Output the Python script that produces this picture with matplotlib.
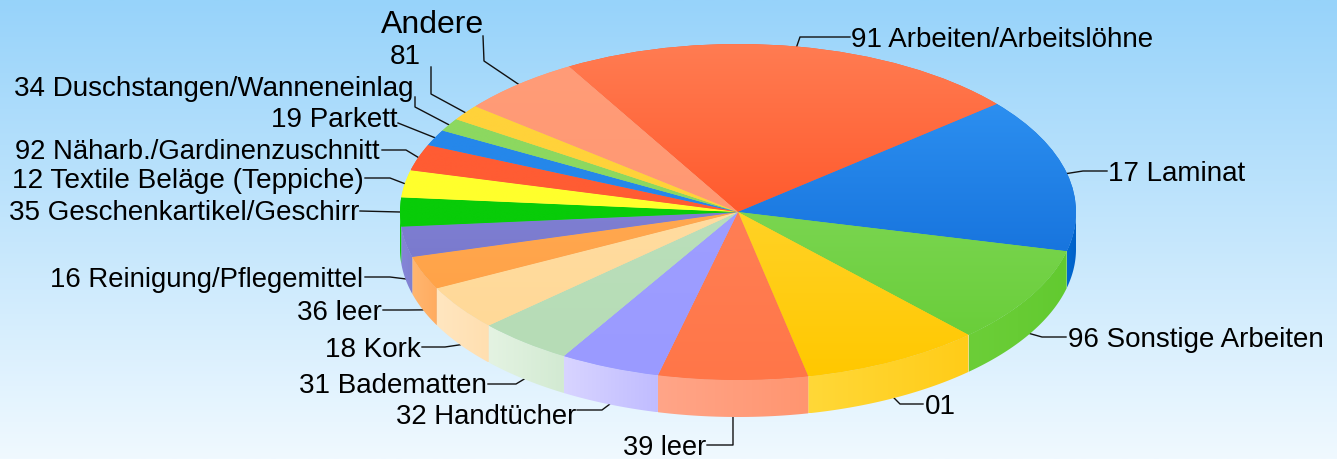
import numpy as np
import matplotlib
matplotlib.use('Agg')
import matplotlib.pyplot as plt
from matplotlib.colors import LinearSegmentedColormap
from matplotlib.patches import Polygon

plt.rcParams['font.family'] = ['Liberation Sans', 'DejaVu Sans']

# slices, clockwise starting with the big red one
names = ['91 Arbeiten/Arbeitslöhne', '17 Laminat', '96 Sonstige Arbeiten', '01', '39 leer',
         '32 Handtücher', '31 Badematten', '18 Kork', '36 leer', '16 Reinigung/Pflegemittel',
         '35 Geschenkartikel/Geschirr', '12 Textile Beläge (Teppiche)', '92 Näharb./Gardinenzuschnitt',
         '19 Parkett', '34 Duschstangen/Wanneneinlag', '81', 'Andere']
shares = [80, 53.5, 33.5, 31, 25.7, 17.3, 16.5, 15.5, 11.5, 10.5, 10, 9.4, 9.1, 5.5, 4.5, 5.5, 21]

# top face colours (upper, lower)
top_cols = [('#FF7C52', '#FF5A2D'), ('#2C8FF0', '#1875DE'), ('#7AD550', '#6ACE3A'), ('#FFD226', '#FFC800'),
            ('#FF7F55', '#FF7648'), ('#9E9EFF', '#9A9AFF'), ('#BADFBA', '#B6DCB6'), ('#FFDCA0', '#FFD998'),
            ('#FFA850', '#FFA348'), ('#7F7FD2', '#7A7ACE'), ('#08CC08', '#08CC08'), ('#FFFF2C', '#FFFF2C'),
            ('#FF5C33', '#FF5C33'), ('#2587EA', '#2587EA'), ('#8CD860', '#8CD860'), ('#FFD23A', '#FFD23A'),
            ('#FF9C78', '#FF9872')]
# side wall colours (left, right)
side_cols = [('#FF5A2D', '#FF5A2D'), ('#0068D0', '#0060C8'), ('#6CCE38', '#62CA30'), ('#FFD838', '#FFCC18'),
             ('#FFA588', '#FF9570'), ('#D8D4FF', '#C0BCFF'), ('#E4F3E2', '#D2EAD2'), ('#FFE6C0', '#FFDFB0'),
             ('#FFB670', '#FFAC60'), ('#8585D8', '#8080D0'), ('#08CC08', '#08CC08'), ('#FFFF2C', '#FFFF2C'),
             ('#FF5C33', '#FF5C33'), ('#2587EA', '#2587EA'), ('#8CD860', '#8CD860'), ('#FFD23A', '#FFD23A'),
             ('#FF9C78', '#FF9872')]

# label text position in pixels, alignment, bend and end of the leader, font size
labels = [(851, 40, 'left', [(800, 37), (850, 37)], 20),
          (1108, 174, 'left', [(1083, 171), (1107, 171)], 20),
          (1068, 340, 'left', [(1042, 337), (1066, 337)], 20),
          (925, 407, 'left', [(900, 404), (923, 404)], 20),
          (706, 448, 'right', [(733, 445), (707, 445)], 19.5),
          (576, 417, 'right', [(602, 410), (577, 410)], 19.8),
          (487, 386, 'right', [(516, 384), (488, 384)], 20),
          (421, 350, 'right', [(445, 347), (422, 347)], 20),
          (382, 313, 'right', [(408, 310), (383, 310)], 20),
          (363, 280, 'right', [(390, 277), (365, 277)], 19.8),
          (359, 213, 'right', [(360, 211)], 20),
          (364, 181, 'right', [(390, 178), (365, 178)], 20.2),
          (380, 152, 'right', [(406, 150), (382, 150)], 19.8),
          (398, 120, 'right', [(398, 123)], 20),
          (414, 89, 'right', [(415, 107), (415, 97)], 20),
          (421, 57, 'right', [(431, 94), (431, 67)], 20),
          (484, 25, 'right', [(484, 61), (483, 36)], 23)]

W, H = 1337, 459
cx, cy, rx, ry = 738, 212, 338, 168
depth = 37 / ry

fig = plt.figure(figsize=(W / 100, H / 100), dpi=100)
ax = fig.add_axes([0, 0, 1, 1])

wedges, _ = ax.pie(shares, startangle=120, counterclock=False, radius=1, colors=[c[1] for c in top_cols],
                   wedgeprops={'linewidth': 0, 'zorder': 3})
ax.set_aspect('auto')
xlim = ((0 - cx) / rx, (W - cx) / rx)
ylim = ((cy - H) / ry, cy / ry)


def px(x, y):
    return (x - cx) / rx, (cy - y) / ry


def gradient(c1, c2, vertical, extent, zorder, clip=None):
    cmap = LinearSegmentedColormap.from_list('g', [c1, c2])
    g = np.linspace(0, 1, 256)
    g = g.reshape(-1, 1) if vertical else g.reshape(1, -1)
    im = ax.imshow(g, cmap=cmap, extent=extent, aspect='auto', zorder=zorder, interpolation='bilinear',
                   origin='upper')
    if clip is not None:
        im.set_clip_path(clip)
    return im


# background
gradient('#97D3FA', '#F0F9FF', True, (xlim[0], xlim[1], ylim[0], ylim[1]), 0)

total = sum(shares)
start = 120.0
for i, w in enumerate(wedges):
    end = start - shares[i] / total * 360
    mid = np.radians((start + end) / 2)

    # top face with gradient over the slice's own height
    box = w.get_path().transformed(w.get_patch_transform()).get_extents()
    gradient(top_cols[i][0], top_cols[i][1], True, (box.x0, box.x1, box.y0, box.y1), 4, clip=w)

    # side wall, only the part facing the viewer
    a1 = min(start, 0)
    a2 = max(end, -180)
    if a1 > a2:
        t = np.radians(np.linspace(a1, a2, 60))
        xs = np.cos(t)
        ys = np.sin(t)
        pts = np.r_[np.c_[xs, ys], np.c_[xs[::-1], ys[::-1] - depth]]
        poly = Polygon(pts, closed=True, facecolor='none', edgecolor='none')
        ax.add_patch(poly)
        gradient(side_cols[i][0], side_cols[i][1], False,
                 (xs.min(), xs.max(), ys.min() - depth, ys.max()), 2, clip=poly)

    # leader line, from the rim at the middle of the slice
    lx, ly = np.cos(mid), np.sin(mid)
    if ly < -0.1:
        ly -= depth
    tx, ty, ha, bend, size = labels[i]
    lpts = [px(*b) for b in bend]
    xs = [lx] + [p[0] for p in lpts]
    ys = [ly] + [p[1] for p in lpts]
    ax.plot(xs, ys, color='#111111', lw=1.0, zorder=1)
    ax.text(*px(tx, ty), names[i], ha=ha, va='center', fontsize=size, color='black', zorder=6)
    start = end

ax.set_xlim(xlim)
ax.set_ylim(ylim)
ax.axis('off')
fig.savefig('out.png', dpi=100)
